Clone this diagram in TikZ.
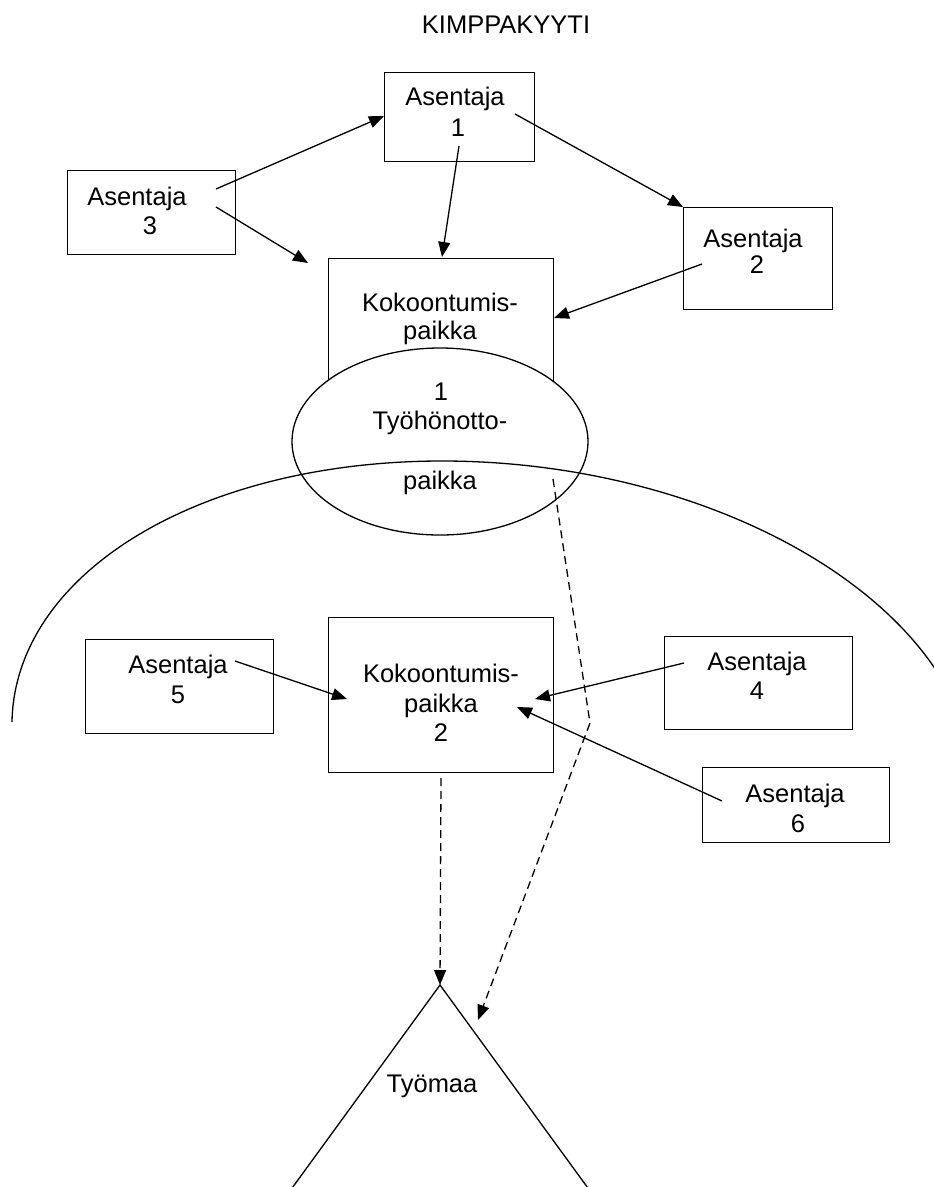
\documentclass[tikz,border=0pt]{standalone}
\usepackage{fontspec}
\setmainfont{Liberation Sans}
\usetikzlibrary{arrows.meta,shapes.geometric}
\begin{document}
\begin{tikzpicture}[x=1pt,y=-1pt,
  font=\fontsize{25.5}{30}\selectfont,
  box/.style={draw, line width=1.3pt, inner sep=0pt, anchor=north west},
  lbl/.style={inner sep=0pt, anchor=base},
  arr/.style={line width=1.3pt, -{Triangle[length=15pt,width=12pt]}},
  darr/.style={line width=1.3pt, dash pattern=on 8pt off 5pt, -{Triangle[length=15pt,width=12pt]}},
  outline/.style={line width=1.3pt}]
\useasboundingbox (0,0) rectangle (934,1187);
\fill[white] (0,0) rectangle (934,1187);

% title
\node[lbl] (title) at (506,33) {KIMPPAKYYTI};

% boxes
\node[box, minimum width=150pt, minimum height=89pt] (a1) at (384,72) {};
\node[box, minimum width=168pt, minimum height=84pt] (a3) at (67,170) {};
\node[box, minimum width=149pt, minimum height=102pt] (a2) at (683,207) {};
\node[box, minimum width=225pt, minimum height=162pt] (k1) at (328,258) {};
\node[box, minimum width=188pt, minimum height=94pt] (a5) at (85,639) {};
\node[box, minimum width=225pt, minimum height=155pt] (k2) at (328,617) {};
\node[box, minimum width=188pt, minimum height=93pt] (a4) at (664,636) {};
\node[box, minimum width=187pt, minimum height=75pt] (a6) at (702,767) {};

% ellipse over k1
\node[draw, ellipse, fill=white, line width=1.3pt, inner sep=0pt,
      minimum width=296pt, minimum height=187pt] (tp) at (440,441.5) {};

% big arc (part of a slightly tilted ellipse)
\draw[outline] plot[domain=177:335, samples=160, variable=\t]
  ({493.3+480.4*cos(\t)-30.2*sin(\t)}, {756.5+49.8*cos(\t)+291.3*sin(\t)});

% triangle (Tyomaa)
\coordinate (apex) at (440,985);
\coordinate (tl) at (287,1195);
\coordinate (tr) at (593,1195);
\draw[outline] (tl) -- (apex) -- (tr);

% texts
\node[lbl] (a1t) at (455,105) {Asentaja};
\node[lbl] (a1n) at (458,136) {1};
\node[lbl] (a3t) at (137,205) {Asentaja};
\node[lbl] (a3n) at (150,234) {3};
\node[lbl] (a2t) at (753,247) {Asentaja};
\node[lbl] (a2n) at (757,273) {2};
\node[lbl] (k1t) at (440,311) {Kokoontumis-};
\node[lbl] (k1p) at (440,339) {paikka};
\node[lbl] (tp1) at (441,400) {1};
\node[lbl] (tpt) at (440,429) {Työhönotto-};
\node[lbl] (tpp) at (440,489) {paikka};
\node[lbl] (k2t) at (441,682) {Kokoontumis-};
\node[lbl] (k2p) at (441,712) {paikka};
\node[lbl] (k2n) at (441,741) {2};
\node[lbl] (a5t) at (178,673) {Asentaja};
\node[lbl] (a5n) at (178,703) {5};
\node[lbl] (a4t) at (757,670) {Asentaja};
\node[lbl] (a4n) at (757,699) {4};
\node[lbl] (a6t) at (795,802) {Asentaja};
\node[lbl] (a6n) at (798,832) {6};
\node[lbl] (ty) at (432,1092) {Työmaa};

% connector end points
\coordinate (s31) at (216,189);  \coordinate (e31) at (384,116);
\coordinate (s3k) at (216,207);  \coordinate (e3k) at (308,263);
\coordinate (s1k) at (459,146);  \coordinate (e1k) at (442,257);
\coordinate (s12) at (515,114);  \coordinate (e12) at (683,207);
\coordinate (s2k) at (702,264);  \coordinate (e2k) at (554,318);
\coordinate (s5k) at (235,661);  \coordinate (e5k) at (347,699);
\coordinate (s4k) at (684,663);  \coordinate (e4k) at (535,699);
\coordinate (s6k) at (722,801);  \coordinate (e6k) at (517,707);
\coordinate (sk2) at (441,778);
\coordinate (stp) at (553,479);  \coordinate (bend) at (590,723);
\coordinate (etp) at (478,1020);

\draw[arr] (s31) -- (e31);
\draw[arr] (s3k) -- (e3k);
\draw[arr] (s1k) -- (e1k);
\draw[arr] (s12) -- (e12);
\draw[arr] (s2k) -- (e2k);
\draw[arr] (s5k) -- (e5k);
\draw[arr] (s4k) -- (e4k);
\draw[arr] (s6k) -- (e6k);
\draw[darr] (sk2) -- (apex);
\draw[darr] (stp) -- (bend) -- (etp);
\end{tikzpicture}
\end{document}
